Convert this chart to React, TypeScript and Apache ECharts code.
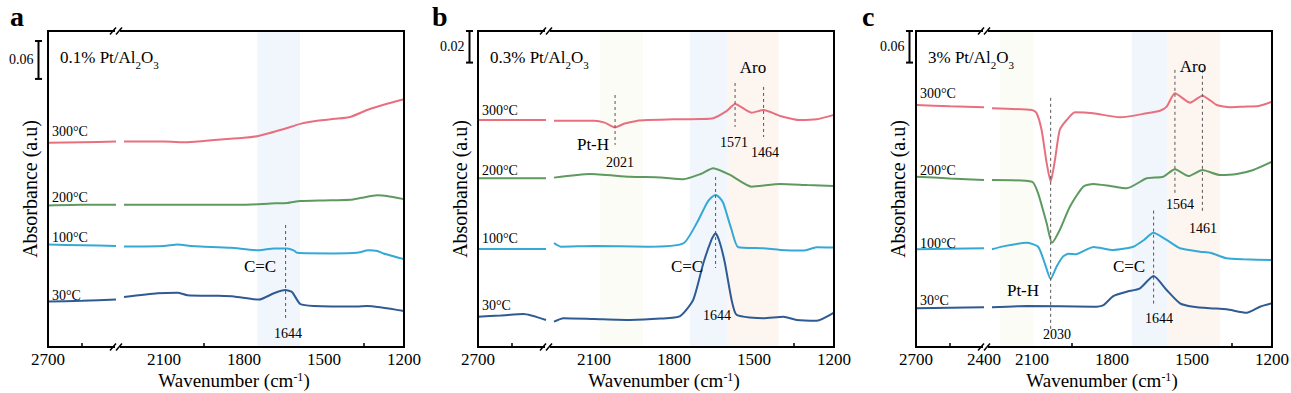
import { useEffect, useRef } from "react";
import * as echarts from "echarts";

const FONT = '"Liberation Serif", "Times New Roman", Times, serif';

const temps = ["300°C", "200°C", "100°C", "30°C"];
const lineColors = ["#e8707e", "#5e9a60", "#35a9d6", "#2f5a93"];

// Panel a — 0.1% Pt/Al2O3  [wavenumber, absorbance]
const a300 = [[2700,0.323],[2550,0.324],[2400,0.325],[2250,0.325],[2100,0.325],[2011,0.324],[1900,0.328],[1800,0.331],[1746,0.334],[1650,0.345],[1589,0.353],[1525,0.358],[1460,0.361],[1402,0.364],[1338,0.375],[1270,0.384],[1200,0.392]];
const a200 = [[2700,0.224],[2550,0.225],[2400,0.225],[2250,0.225],[2100,0.225],[1962,0.225],[1800,0.225],[1700,0.227],[1637,0.228],[1589,0.231],[1500,0.232],[1402,0.233],[1360,0.236],[1300,0.240],[1264,0.239],[1200,0.234]];
const a100 = [[2700,0.162],[2550,0.161],[2400,0.160],[2250,0.159],[2100,0.160],[2049,0.162],[2000,0.160],[1962,0.159],[1850,0.157],[1744,0.153],[1688,0.156],[1638,0.156],[1614,0.153],[1601,0.149],[1465,0.148],[1377,0.149],[1333,0.153],[1300,0.152],[1277,0.148],[1200,0.139]];
const a30 = [[2700,0.072],[2550,0.073],[2400,0.075],[2250,0.079],[2124,0.085],[2049,0.086],[2012,0.082],[1900,0.081],[1838,0.080],[1744,0.075],[1688,0.085],[1645,0.090],[1620,0.087],[1589,0.068],[1539,0.065],[1377,0.064],[1339,0.065],[1200,0.057]];

// Panel b — 0.3% Pt/Al2O3
const b300 = [[2700,0.1437],[2550,0.1437],[2400,0.1437],[2250,0.1432],[2100,0.1432],[2060,0.142],[2021,0.139],[1985,0.1415],[1940,0.1431],[1900,0.1436],[1800,0.1441],[1700,0.1443],[1653,0.1448],[1602,0.1495],[1571,0.1538],[1509,0.1483],[1464,0.150],[1402,0.1462],[1327,0.1436],[1265,0.1441],[1200,0.1469]];
const b200 = [[2700,0.1068],[2550,0.1068],[2400,0.1068],[2250,0.1072],[2115,0.1095],[1965,0.1078],[1850,0.1073],[1765,0.1062],[1700,0.1095],[1653,0.1131],[1590,0.1089],[1509,0.1015],[1402,0.1032],[1300,0.1025],[1200,0.1019]];
const b100 = [[2700,0.062],[2550,0.062],[2400,0.062],[2250,0.0658],[2225,0.0635],[2100,0.0639],[1900,0.0635],[1765,0.0656],[1715,0.0783],[1677,0.091],[1660,0.0946],[1644,0.0962],[1628,0.0943],[1615,0.091],[1584,0.0741],[1559,0.0631],[1465,0.0625],[1402,0.0614],[1315,0.061],[1265,0.0631],[1200,0.0629]];
const b30 = [[2700,0.0192],[2600,0.0199],[2500,0.0209],[2400,0.0171],[2250,0.016],[2215,0.0182],[2100,0.0177],[1965,0.0171],[1850,0.018],[1777,0.0196],[1728,0.0298],[1690,0.053],[1660,0.0677],[1644,0.072],[1628,0.066],[1609,0.053],[1584,0.0298],[1565,0.0203],[1465,0.0182],[1390,0.0192],[1340,0.0171],[1265,0.0166],[1200,0.0217]];

// Panel c — 3% Pt/Al2O3
const c300 = [[2700,0.4595],[2550,0.457],[2400,0.4551],[2250,0.4532],[2100,0.450],[2083,0.4443],[2064,0.412],[2045,0.3494],[2030,0.3139],[2014,0.3551],[1996,0.412],[1970,0.431],[1939,0.4456],[1870,0.4437],[1770,0.4361],[1670,0.4437],[1620,0.4487],[1595,0.4563],[1564,0.4817],[1507,0.4639],[1461,0.4772],[1407,0.4595],[1357,0.4551],[1307,0.4563],[1250,0.4576],[1200,0.4658]];
const c200 = [[2700,0.3234],[2550,0.320],[2400,0.3171],[2250,0.3171],[2100,0.3139],[2077,0.2918],[2045,0.2349],[2025,0.198],[1996,0.2222],[1958,0.2664],[1908,0.3044],[1870,0.3095],[1807,0.3057],[1745,0.3013],[1670,0.3203],[1608,0.3234],[1564,0.3374],[1513,0.3247],[1461,0.3361],[1395,0.3266],[1332,0.3285],[1270,0.3361],[1200,0.3518]];
const c100 = [[2700,0.1855],[2550,0.1865],[2400,0.1874],[2250,0.1855],[2200,0.192],[2120,0.198],[2077,0.1904],[2052,0.1589],[2030,0.1291],[2008,0.1525],[1983,0.172],[1964,0.177],[1935,0.176],[1900,0.184],[1870,0.190],[1795,0.1842],[1720,0.1904],[1680,0.2032],[1645,0.217],[1595,0.2032],[1545,0.1874],[1470,0.181],[1432,0.179],[1370,0.1684],[1307,0.1665],[1200,0.1652]];
const c30 = [[2700,0.0735],[2550,0.0745],[2400,0.0754],[2250,0.0754],[2120,0.0778],[1870,0.0765],[1832,0.0797],[1795,0.0968],[1745,0.105],[1695,0.1115],[1644,0.1348],[1595,0.1082],[1545,0.083],[1495,0.0765],[1432,0.0735],[1370,0.0716],[1295,0.0651],[1245,0.0765],[1200,0.083]];

const panelSeries = [[a300, a200, a100, a30], [b300, b200, b100, b30], [c300, c200, c100, c30]];
const panelLetters = ["a", "b", "c"];
const loadings = ["0.1%", "0.3%", "3%"];
const yMax = [0.5, 0.2, 0.6];
const scaleBars = [0.06, 0.02, 0.06];
const scaleBarLabels = ["0.06", "0.02", "0.06"];

// broken axis: left part 2700–2400, right part 2250–1200
const leftRange = [2400, 2700];
const rightRange = [1200, 2250];
const leftTickLabels = [[2700], [2700], [2700, 2400]];
const rightTickLabels = [2100, 1800, 1500, 1200];
const leftMinorTicks = [2550];
const rightMinorTicks = [1950, 1350];

// shaded regions [from, to, kind]
const bands = [
  [[1750, 1590, "blue"]],
  [[2077, 1916, "green"], [1740, 1601, "blue"], [1601, 1408, "orange"]],
  [[2220, 2095, "green"], [1726, 1593, "blue"], [1593, 1395, "orange"]],
];
const bandColors = { blue: "#f1f6fc", orange: "#fdf5f0", green: "#fafcf5" };

// dashed marker lines [wavenumber, yTop, yBottom]
const markers = [
  [[1644, 0.193, 0.046]],
  [[2021, 0.1595, 0.1279], [1571, 0.1671, 0.1393], [1464, 0.1646, 0.1329], [1644, 0.1076, 0.05]],
  [[2030, 0.4731, 0.0323], [1564, 0.5263, 0.2888], [1461, 0.5263, 0.2546], [1644, 0.259, 0.0798]],
];

// layout
const panelLeft = [48, 478, 916];
const TOP = 31;
const H = 316;
const LW = 68;
const GAP = 8;
const RW = 280;
const letterX = [10, 432, 862];
const barX = [38.5, 469.5, 909.5];
const barTop = [41, 31, 31];

const tempLabelX = [52, 482, 920];
const tempLabelY = [[131, 197, 237, 295], [110, 170, 238, 305], [93, 170, 243, 300]];

const annotations = [
  [["C=C", 260, 266, 17], ["1644", 288, 333, 14]],
  [["Aro", 753, 67, 17], ["Pt-H", 593, 144, 17], ["2021", 620, 162, 14], ["1571", 734, 142, 14], ["1464", 765, 152, 14], ["C=C", 687, 266, 17], ["1644", 717, 315, 14]],
  [["Aro", 1193, 66, 17], ["Pt-H", 1023, 290, 17], ["2030", 1057, 334, 14], ["C=C", 1129, 266, 17], ["1644", 1159, 318, 14], ["1564", 1180, 204, 14], ["1461", 1203, 228, 14]],
];

export default function App() {
  const ref = useRef<HTMLDivElement>(null);

  useEffect(() => {
    if (!ref.current) return;
    const chart = echarts.init(ref.current, undefined, { renderer: "svg" });

    const grids: any[] = [];
    const xAxes: any[] = [];
    const yAxes: any[] = [];
    const series: any[] = [];

    const labelStyle = {
      fontSize: 17, fontFamily: FONT, color: "#000", margin: 4, lineHeight: 17,
      formatter: (v: number) => String(v),
    };
    const tickStyle = { show: true, inside: true, length: 4, lineStyle: { color: "#000", width: 1.5 } };

    for (let p = 0; p < 3; p++) {
      const L = panelLeft[p];
      const gl = 2 * p;
      const gr = 2 * p + 1;
      grids.push({ left: L, top: TOP, width: LW, height: H, outerBoundsMode: "none", containLabel: false });
      grids.push({ left: L + LW + GAP, top: TOP, width: RW, height: H, outerBoundsMode: "none", containLabel: false });
      xAxes.push({
        type: "value", gridIndex: gl, min: leftRange[0], max: leftRange[1], inverse: true,
        axisLine: { show: false }, splitLine: { show: false },
        axisTick: { ...tickStyle, customValues: leftMinorTicks },
        axisLabel: { ...labelStyle, customValues: leftTickLabels[p] },
      });
      xAxes.push({
        type: "value", gridIndex: gr, min: rightRange[0], max: rightRange[1], inverse: true,
        axisLine: { show: false }, splitLine: { show: false },
        axisTick: { ...tickStyle, customValues: rightMinorTicks },
        axisLabel: { ...labelStyle, customValues: rightTickLabels },
      });
      for (const g of [gl, gr]) {
        yAxes.push({ type: "value", gridIndex: g, min: 0, max: yMax[p], show: false, splitLine: { show: false } });
      }

      // shaded bands
      series.push({
        type: "line", xAxisIndex: gr, yAxisIndex: gr, data: [[1200, 0]], symbol: "none",
        lineStyle: { opacity: 0 }, silent: true, z: 1,
        markArea: {
          silent: true,
          data: bands[p].map((b: any) => [
            { xAxis: b[0], itemStyle: { color: (bandColors as any)[b[2]] } },
            { xAxis: b[1] },
          ]),
        },
      });

      panelSeries[p].forEach((d, i) => {
        const common = {
          type: "line", symbol: "none", showSymbol: false, smooth: 0.2, silent: true, z: 3,
          lineStyle: { color: lineColors[i], width: 2 },
        };
        series.push({ ...common, xAxisIndex: gl, yAxisIndex: gl, data: d.filter((pt) => pt[0] >= leftRange[0]) });
        series.push({ ...common, xAxisIndex: gr, yAxisIndex: gr, data: d.filter((pt) => pt[0] <= rightRange[1]) });
      });

      markers[p].forEach((m) => {
        series.push({
          type: "line", xAxisIndex: gr, yAxisIndex: gr, symbol: "none", silent: true, z: 4,
          data: [[m[0], m[1]], [m[0], m[2]]],
          lineStyle: { color: "#555", width: 1, type: [3, 3] },
        });
      });
    }

    chart.setOption({
      animation: false,
      backgroundColor: "#fff",
      textStyle: { fontFamily: FONT },
      grid: grids,
      xAxis: xAxes,
      yAxis: yAxes,
      series,
    });

    const graphics: any[] = [];
    for (let p = 0; p < 3; p++) {
      const L = panelLeft[p];
      graphics.push({
        type: "text", x: letterX[p], y: 16, z: 100,
        style: { text: panelLetters[p], fontSize: 28, fontWeight: "bold", fontFamily: FONT, fill: "#000", align: "left", verticalAlign: "middle" },
      });
      graphics.push({
        type: "rect", z: 100, shape: { x: L, y: TOP, width: LW + GAP + RW, height: H },
        style: { fill: "none", stroke: "#000", lineWidth: 2 },
      });
      for (const y0 of [TOP, TOP + H]) {
        graphics.push({ type: "rect", z: 101, shape: { x: L + LW - 1, y: y0 - 1.6, width: 5, height: 3.2 }, style: { fill: "#fff" } });
        for (const cx of [L + LW - 3, L + LW + 3]) {
          graphics.push({
            type: "line", z: 102, shape: { x1: cx - 3, y1: y0 + 3.5, x2: cx + 3, y2: y0 - 3.5 },
            style: { stroke: "#000", lineWidth: 1.5 },
          });
        }
      }
      graphics.push({
        type: "text", x: L + 12, y: 60, z: 100,
        style: {
          text: `{m|${loadings[p]} Pt/Al}{s|2}{m|O}{s|3}`,
          align: "left", verticalAlign: "middle", fill: "#000",
          rich: {
            m: { fontSize: 17, fontFamily: FONT, lineHeight: 20, padding: [0, 0, 4, 0], verticalAlign: "bottom", fill: "#000" },
            s: { fontSize: 11, fontFamily: FONT, lineHeight: 11, verticalAlign: "bottom", fill: "#000" },
          },
        },
      });
      temps.forEach((t, i) => {
        graphics.push({
          type: "text", x: tempLabelX[p], y: tempLabelY[p][i], z: 100,
          style: { text: t, fontSize: 14, fontFamily: FONT, fill: "#000", align: "left", verticalAlign: "middle" },
        });
      });
      annotations[p].forEach((a: any) => {
        graphics.push({
          type: "text", x: a[1], y: a[2], z: 100,
          style: { text: a[0], fontSize: a[3], fontFamily: FONT, fill: "#000", align: "center", verticalAlign: "middle" },
        });
      });
      graphics.push({
        type: "text", x: L - 18, y: TOP + H / 2, rotation: Math.PI / 2, z: 100,
        style: { text: "Absorbance (a.u)", fontSize: 20, fontFamily: FONT, fill: "#000", align: "center", verticalAlign: "middle" },
      });
      graphics.push({
        type: "text", x: L + 186, y: 380, z: 100,
        style: {
          text: "{m|Wavenumber (cm}{s|-1}{m|)}",
          align: "center", verticalAlign: "middle", fill: "#000",
          rich: {
            m: { fontSize: 19, fontFamily: FONT, lineHeight: 19, verticalAlign: "top", fill: "#000" },
            s: { fontSize: 12, fontFamily: FONT, lineHeight: 11, verticalAlign: "top", fill: "#000" },
          },
        },
      });
      const p0 = chart.convertToPixel({ gridIndex: 2 * p } as any, [2700, 0]) as number[];
      const p1 = chart.convertToPixel({ gridIndex: 2 * p } as any, [2700, scaleBars[p]]) as number[];
      const len = Math.abs(p0[1] - p1[1]);
      const bx = barX[p];
      const by = barTop[p];
      graphics.push({ type: "line", z: 100, shape: { x1: bx, y1: by, x2: bx, y2: by + len }, style: { stroke: "#000", lineWidth: 2 } });
      graphics.push({ type: "line", z: 100, shape: { x1: bx - 3.5, y1: by, x2: bx + 3.5, y2: by }, style: { stroke: "#000", lineWidth: 2 } });
      graphics.push({ type: "line", z: 100, shape: { x1: bx - 3.5, y1: by + len, x2: bx + 3.5, y2: by + len }, style: { stroke: "#000", lineWidth: 2 } });
      graphics.push({
        type: "text", x: bx - 5, y: by + len / 2, z: 100,
        style: { text: scaleBarLabels[p], fontSize: 14, fontFamily: FONT, fill: "#000", align: "right", verticalAlign: "middle" },
      });
    }

    chart.setOption({ graphic: graphics });

    return () => chart.dispose();
  }, []);

  return <div ref={ref} style={{ position: "absolute", left: 0, top: 0, width: 1291, height: 393 }} />;
}
